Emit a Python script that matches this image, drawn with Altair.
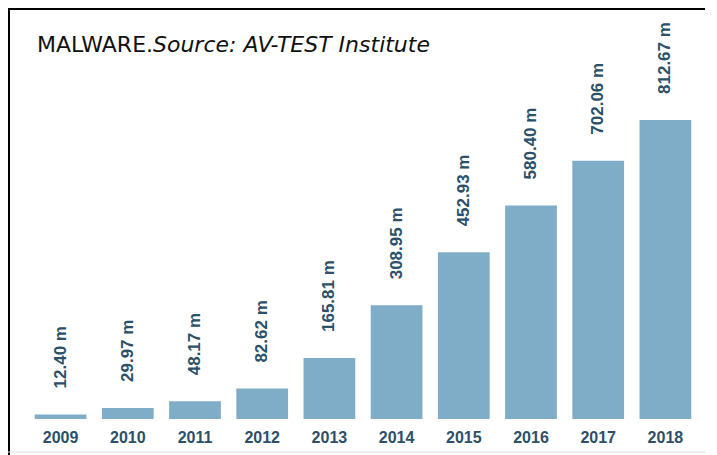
import altair as alt
import pandas as pd

years = ["2009", "2010", "2011", "2012", "2013", "2014", "2015", "2016", "2017", "2018"]
values = [12.40, 29.97, 48.17, 82.62, 165.81, 308.95, 452.93, 580.40, 702.06, 812.67]
labels = ["12.40 m", "29.97 m", "48.17 m", "82.62 m", "165.81 m", "308.95 m",
          "452.93 m", "580.40 m", "702.06 m", "812.67 m"]
title_main = "MALWARE."
title_source = "Source: AV-TEST Institute"

df = pd.DataFrame({"year": years, "value": values, "label": labels})

PL, PT = 19, 0
W, H = 672, 411
BAR = "#7fadc8"
TXT = "#2b5068"

x = alt.X("year:N", sort=years,
          scale=alt.Scale(paddingInner=0.23, paddingOuter=0.115),
          axis=alt.Axis(title=None, labelAngle=0, domain=False, ticks=False,
                        labelPadding=10, labelFontSize=16, labelColor=TXT,
                        labelFont="Liberation Sans", labelFontWeight="bold"))
y = alt.Y("value:Q", scale=alt.Scale(domain=[0, 1117], nice=False), axis=None)

base = alt.Chart(df)
bars = base.mark_bar(color=BAR).encode(x=x, y=y)
text = base.mark_text(angle=270, align="left", baseline="middle", dx=26,
                      font="Liberation Sans", fontSize=17, color=TXT,
                      fontWeight="bold").encode(x=x, y=y, text="label:N")

t1 = alt.Chart(pd.DataFrame({"t": [title_main]})).mark_text(
    align="left", baseline="alphabetic", font="DejaVu Sans", fontSize=22, color="#111111"
).encode(x=alt.value(37 - 8 - PL), y=alt.value(52 - 8), text="t:N")
t2 = alt.Chart(pd.DataFrame({"t": [title_source]})).mark_text(
    align="left", baseline="alphabetic", font="DejaVu Sans", fontSize=22, color="#111111",
    fontStyle="italic"
).encode(x=alt.value(153 - 8 - PL), y=alt.value(52 - 8), text="t:N")

left_line = alt.Chart(pd.DataFrame({"a": [0]})).mark_rule(color="black", strokeWidth=2).encode(
    x=alt.value(-PL + 1), y=alt.value(0), y2=alt.value(H + 36))
top_line = alt.Chart(pd.DataFrame({"a": [0]})).mark_rule(color="black", strokeWidth=2).encode(
    x=alt.value(-PL), x2=alt.value(W + 30), y=alt.value(1))
bottom_line = alt.Chart(pd.DataFrame({"a": [0]})).mark_rule(color="#dddddd", strokeWidth=1).encode(
    x=alt.value(-PL), x2=alt.value(W + 30), y=alt.value(H + 33))

chart = alt.layer(bars, text, t1, t2, left_line, top_line, bottom_line).properties(
    width=W, height=H,
    padding={"left": PL, "top": PT, "right": 6, "bottom": 36},
    autosize=alt.AutoSizeParams(type="none"),
    background="white",
).configure_view(stroke=None)

chart.save("out.html", embed_options={"renderer": "svg", "actions": False})
